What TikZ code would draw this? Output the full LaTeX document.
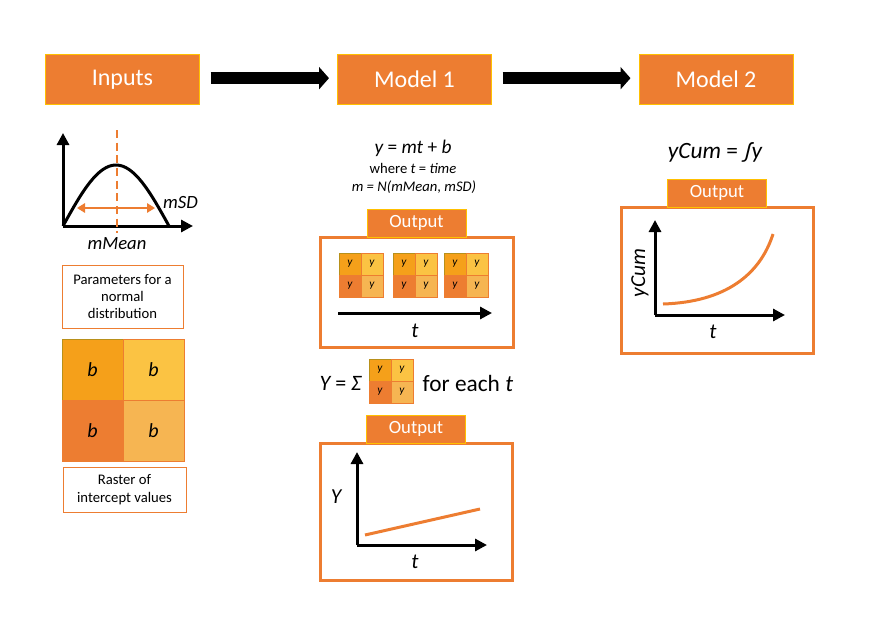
\documentclass[tikz,border=0pt]{standalone}
\usepackage{fontspec}
\setmainfont{Carlito}
\usetikzlibrary{arrows.meta,positioning}

\definecolor{orangeA}{HTML}{ED7D31}
\definecolor{goldA}{HTML}{FFC000}
\definecolor{cellTL}{HTML}{F5A01A}
\definecolor{cellTLrand}{HTML}{B8901A}
\definecolor{cellTR}{HTML}{FBC343}
\definecolor{cellBL}{HTML}{ED7D31}
\definecolor{cellBR}{HTML}{F6B552}

% Raster aus 2x2 Zellen: Name, Ecke oben links, Zellgroesse, Inhalt
\newcommand{\rasterfeld}[4]{%
    \node[zelle=#3, fill=cellTL, draw=cellTLrand, anchor=north west] (#1-11) at (#2) {#4};
    \node[zelle=#3, fill=cellTR, right=0pt of #1-11] (#1-12) {#4};
    \node[zelle=#3, fill=cellBL, below=0pt of #1-11] (#1-21) {#4};
    \node[zelle=#3, fill=cellBR, right=0pt of #1-21] (#1-22) {#4};
}

\begin{document}
\begin{tikzpicture}[
        x=0.75pt, y=-0.75pt,
        font=\fontsize{11}{13}\selectfont,
        >={Triangle[length=9pt,width=9pt]}, % Pfeilspitzen der Achsen
        kopf/.style={fill=orangeA, draw=goldA, line width=0.75pt, text=white,
            minimum width=115.5pt, minimum height=36.75pt,
            font=\fontsize{18}{21}\selectfont},
        etikett/.style={fill=orangeA, draw=goldA, line width=0.75pt, text=white,
            minimum width=74.25pt, minimum height=21pt, inner sep=0pt, outer sep=0pt,
            font=\fontsize{14}{17}\selectfont},
        rahmen/.style={draw=orangeA, line width=2.25pt, inner sep=0pt, outer sep=0pt},
        textbox/.style={draw=orangeA, line width=0.75pt, align=center, inner sep=0pt},
        achse/.style={line width=2.25pt, ->},
        kurve/.style={draw=orangeA, line width=2.25pt},
        blockpfeil/.style={line width=9pt, -{Triangle[length=7.5pt,width=16.5pt]}},
        zelle/.style={draw=orangeA, line width=0.75pt, minimum size=#1,
            inner sep=0pt, outer sep=0pt},
        beschriftung/.style={font=\fontsize{16}{19}\selectfont\itshape},
        ]
    \useasboundingbox (0,0) rectangle (877,617);

    % Kopfzeile
    \node[kopf] (inputs) at (122.5,79.5) {Inputs};
    \node[kopf] (model1) at (414.5,79.5) {Model 1};
    \node[kopf] (model2) at (716,79.5) {Model 2};

    \draw[blockpfeil] ([xshift=8pt,yshift=1pt]inputs.east) -- ([xshift=-6pt,yshift=1pt]model1.west);
    \draw[blockpfeil] ([xshift=8pt,yshift=1pt]model1.east) -- ([xshift=-6pt,yshift=1pt]model2.west);

    % Eingaben: Normalverteilung
    \coordinate (N0) at (63,226);
    \coordinate (Ny) at (63,133);
    \coordinate (Nx) at (193,226);
    \draw[achse] (N0) -- (Ny);
    \draw[achse] (N0) -- (Nx);
    \draw[line width=2.25pt] plot[domain=0:180, smooth, samples=40]
        ({63+\x/180*106}, {226-61*sin(\x)});
    \coordinate (Mo) at (117,130);
    \coordinate (Mu) at (117,233);
    \draw[orangeA, line width=1.5pt, dash pattern=on 6pt off 3.5pt] (Mo) -- (Mu);
    \coordinate (Sl) at (77,208);
    \coordinate (Sr) at (155,208);
    \draw[orangeA, line width=1.5pt, {Triangle[length=6pt,width=7pt]}-{Triangle[length=6pt,width=7pt]}] (Sl) -- (Sr);
    \node[font=\fontsize{14}{17}\selectfont\itshape] (msd) at (180.5,203) {mSD};
    \node[font=\fontsize{14}{17}\selectfont\itshape] (mmean) at (117,244) {mMean};

    \node[textbox, minimum width=90.75pt, minimum height=47.25pt] (param) at (122.5,296.5)
        {Parameters for a\\normal\\distribution};

    % Eingaben: Raster
    \rasterfeld{B}{62,339}{45.75pt}{\fontsize{15}{18}\selectfont\itshape b}
    \node[textbox, minimum width=92.25pt, minimum height=33.75pt] (rastertext) at (124.5,489.5)
        {Raster of\\intercept values};

    % Modell 1
    \node[font=\fontsize{14.5}{17}\selectfont] (gl1) at (413,148)
        {\itshape y \upshape= \itshape mt \upshape+ \itshape b};
    \node (gl2) at (413,168) {where \itshape t \upshape= \itshape time};
    \node[font=\fontsize{11}{13}\selectfont\itshape] (gl3) at (414,187) {m = N(mMean, mSD)};

    \node[rahmen, minimum width=144.75pt, minimum height=82.5pt] (frame1) at (416.5,292) {};
    \node[etikett, above=0pt of frame1] (out1) {Output};
    \rasterfeld{R1}{339,253}{16.5pt}{\fontsize{8.5}{10}\selectfont\itshape y}
    \rasterfeld{R2}{393,253}{16.5pt}{\fontsize{8.5}{10}\selectfont\itshape y}
    \rasterfeld{R3}{444,253}{16.5pt}{\fontsize{8.5}{10}\selectfont\itshape y}
    \coordinate (T1a) at (338,313);
    \coordinate (T1b) at (492,313);
    \draw[achse] (T1a) -- (T1b);
    \node[beschriftung] (t1) at (415,331) {t};

    % Summe
    \node[anchor=east, font=\fontsize{16.5}{19}\selectfont] (summe) at (366,383)
        {\itshape Y \upshape= \itshape Σ};
    \rasterfeld{S}{369,359}{16.5pt}{\fontsize{8.5}{10}\selectfont\itshape y}
    \node[anchor=west, font=\fontsize{17.5}{20}\selectfont] (jedes) at (418,383)
        {for each \itshape t};

    \node[rahmen, minimum width=144pt, minimum height=102.75pt] (frame2) at (416,511.5) {};
    \node[etikett, above=0pt of frame2] (out2) {Output};
    \coordinate (Y0) at (357,545);
    \coordinate (Yy) at (357,452);
    \coordinate (Yx) at (487,545);
    \draw[achse] (Y0) -- (Yy);
    \draw[achse] (Y0) -- (Yx);
    \coordinate (La) at (365,535);
    \coordinate (Lb) at (480,509);
    \draw[kurve] (La) -- (Lb);
    \node[beschriftung] (ylab) at (336,497) {Y};
    \node[beschriftung] (t2) at (415,562) {t};

    % Modell 2
    \node[font=\fontsize{17.5}{20}\selectfont] (gl4) at (715,152)
        {\itshape yCum \upshape= \itshape ∫y};
    \node[rahmen, minimum width=144pt, minimum height=109.5pt] (frame3) at (717,280) {};
    \node[etikett, above=0pt of frame3] (out3) {Output};
    \coordinate (C0) at (655,315);
    \coordinate (Cy) at (655,220);
    \coordinate (Cx) at (785,315);
    \draw[achse] (C0) -- (Cy);
    \draw[achse] (C0) -- (Cx);
    \coordinate (Ka) at (663,304);
    \coordinate (Kb) at (773,234);
    \draw[kurve] (Ka) .. controls (725,302) and (760,275) .. (Kb);
    \node[rotate=90, beschriftung] (ycum) at (640,273) {yCum};
    \node[beschriftung] (t3) at (713,332) {t};

\end{tikzpicture}
\end{document}
